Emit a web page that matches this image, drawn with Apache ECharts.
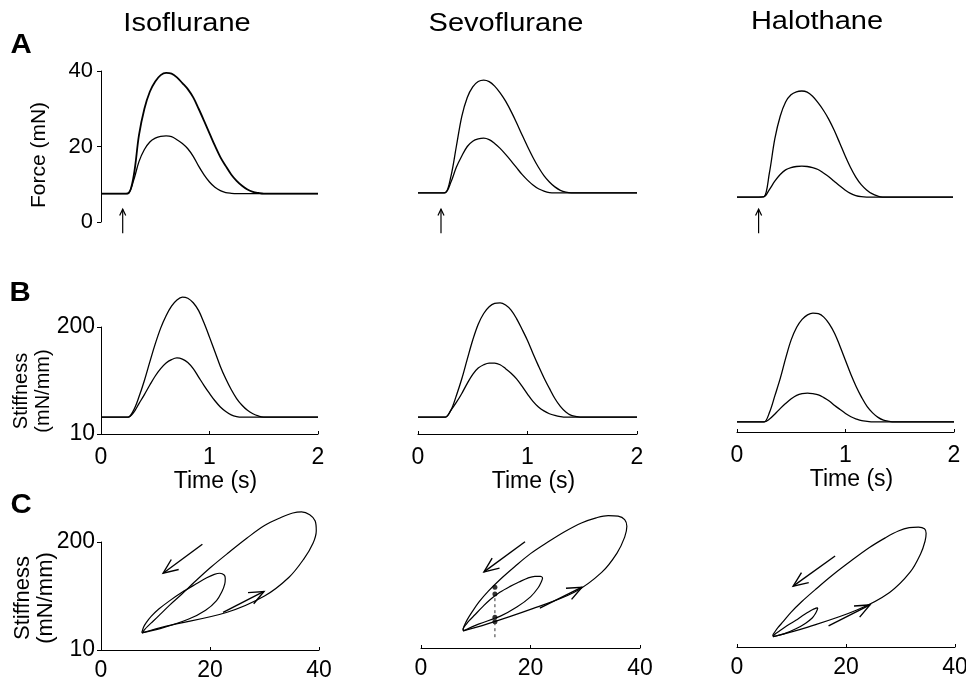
<!DOCTYPE html>
<html><head><meta charset="utf-8">
<script src="https://cdn.jsdelivr.net/npm/echarts@6/dist/echarts.min.js"></script>
<style>html,body{margin:0;padding:0;background:#fff}#c{width:966px;height:685px}</style>
</head><body><div id="c"></div>
<script>
// ---------- data ----------
const anesthetics = ['Isoflurane', 'Sevoflurane', 'Halothane'];
const T = [0,0.05,0.1,0.15,0.2,0.25,0.3,0.35,0.4,0.45,0.5,0.55,0.6,0.65,0.7,0.75,0.8,0.85,0.9,0.95,1,1.05,1.1,1.15,1.2,1.25,1.3,1.35,1.4,1.45,1.5,1.55,1.6,1.65,1.7,1.75,1.8,1.85,1.9,1.95,2];

const isoForceHigh = [7.5,7.5,7.5,7.5,7.5,7.6,12,23,30,34.5,37.2,38.9,39.5,39.3,38.3,36.8,35.2,33,30,26.8,23.5,20.2,17.2,14.8,12.6,10.9,9.6,8.6,8.0,7.7,7.5,7.5,7.5,7.5,7.5,7.5,7.5,7.5,7.5,7.5,7.5];
const isoForceLow  = [7.5,7.5,7.5,7.5,7.5,7.6,11,16,19.2,21.2,22.2,22.7,22.8,22.6,21.8,20.8,19.4,17.4,14.8,12.5,10.6,9.2,8.3,7.8,7.6,7.5,7.5,7.5,7.5,7.5,7.5,7.5,7.5,7.5,7.5,7.5,7.5,7.5,7.5,7.5,7.5];
const isoStiffHigh = [40,40,40,40,40,40,52,76,105,138,170,198,220,237,248,253,251,243,229,207,182,156,130,108,89,73,61,52,46,42,40,40,40,40,40,40,40,40,40,40,40];
const isoStiffLow  = [40,40,40,40,40,40,48,64,80,97,113,126,136,142,145,143,137,126,111,96,82,69,58,50,44,41,40,40,40,40,40,40,40,40,40,40,40,40,40,40,40];

const sevoForceHigh = [7.7,7.7,7.7,7.7,7.7,7.8,12,20,28,33,35.8,37.2,37.6,37.2,36,34.2,32,29.3,26.3,23.1,20,17.1,14.5,12.3,10.6,9.3,8.4,7.9,7.7,7.7,7.7,7.7,7.7,7.7,7.7,7.7,7.7,7.7,7.7,7.7,7.7];
const sevoForceLow  = [7.7,7.7,7.7,7.7,7.7,7.8,10.5,14.5,17.5,20,21.4,22,22.2,21.8,20.8,19.5,17.9,16.2,14.4,12.6,11.1,9.8,8.8,8.2,7.8,7.7,7.7,7.7,7.7,7.7,7.7,7.7,7.7,7.7,7.7,7.7,7.7,7.7,7.7,7.7,7.7];
const sevoStiffHigh = [40,40,40,40,40,40,52,78,108,143,177,205,224,236,242,243,239,230,215,196,176,153,131,110,91,73,59,49,43,41,40,40,40,40,40,40,40,40,40,40,40];
const sevoStiffLow  = [40,40,40,40,40,40,52,66,82,100,116,127,133,136,136,133,126,118,108,95,81,68,58,51,46,43,41,40,40,40,40,40,40,40,40,40,40,40,40,40,40];

const halForceHigh = [6.6,6.6,6.6,6.6,6.6,6.7,13,22,28,31.8,33.7,34.5,34.7,34.4,33.3,31.6,29.6,27.2,24.3,21,17.6,14.5,11.9,9.9,8.5,7.5,6.9,6.6,6.6,6.6,6.6,6.6,6.6,6.6,6.6,6.6,6.6,6.6,6.6,6.6,6.6];
const halForceLow  = [6.6,6.6,6.6,6.6,6.6,6.7,8.6,10.8,12.6,13.8,14.4,14.7,14.8,14.7,14.4,13.9,13.0,12.0,10.8,9.6,8.5,7.6,7.0,6.7,6.6,6.6,6.6,6.6,6.6,6.6,6.6,6.6,6.6,6.6,6.6,6.6,6.6,6.6,6.6,6.6,6.6];
const halStiffHigh = [28,28,28,28,28,28,45,75,106,142,174,196,210,218,221,220,214,202,185,162,137,112,90,71,55,44,36,31,29,28,28,28,28,28,28,28,28,28,28,28,28];
const halStiffLow  = [28,28,28,28,28,28,33,42,52,61,69,75,78,79,78,76,71,65,57,50,43,37,33,30,29,28,28,28,28,28,28,28,28,28,28,28,28,28,28,28,28];

// Sevoflurane loop: marked points and vertical cut at 13.5 mN
const sevoMarks = [[13.5,117],[13.5,105],[13.5,64],[13.5,56]];
const sevoCut = [[13.5,29],[13.5,121]];

// Ticks
const timeTicks = [0, 1, 2];
const forceTicks = [0, 20, 40];
const stiffTicks = [10, 200];
const loopForceTicks = [0, 20, 40];

// Annotation arrows [grid, x1, y1, x2, y2] (tail -> tip), data units
const stimArrows = [[0,0.20,-3,0.20,3.4],[1,0.21,-3,0.21,3.4],[2,0.20,-3,0.20,3.4]];
const loopArrows = [[6,18.6,196,11.4,145],[6,22.4,76,29.9,113],
                    [7,19.0,197,11.5,144],[7,21.7,80,29.4,117],
                    [8,18.0,170,10.3,117],[8,16.8,47,24.4,84]];

const forces = [[isoForceHigh, isoForceLow],[sevoForceHigh, sevoForceLow],[halForceHigh, halForceLow]];
const stiffs = [[isoStiffHigh, isoStiffLow],[sevoStiffHigh, sevoStiffLow],[halStiffHigh, halStiffLow]];

// ---------- layout ----------
const FONT = "'Liberation Sans', Arial, Helvetica, sans-serif";
const grids = [
  {left:101, top:71,  width:217, height:151},
  {left:418, top:71,  width:219, height:151},
  {left:737, top:71,  width:216, height:151},
  {left:101, top:327, width:217, height:107},
  {left:418, top:327, width:219, height:107},
  {left:737, top:325, width:217, height:107},
  {left:101, top:542, width:218, height:108},
  {left:421, top:540, width:219, height:108},
  {left:737, top:539, width:218, height:108}
].map(g => Object.assign({containLabel:false, outerBoundsMode:'none'}, g));

const axLine = {show:true, lineStyle:{color:'#000', width:1}};
const xAxes = [], yAxes = [];
for (let i = 0; i < 9; i++) {
  const row = Math.floor(i/3), col = i % 3;
  if (row === 0) {
    xAxes.push({gridIndex:i, type:'value', min:0, max:2, show:false});
    yAxes.push({gridIndex:i, type:'value', min:forceTicks[0], max:forceTicks[2], interval:20, show: col === 0,
      axisLine:axLine, axisTick:{show:true, length:4, lineStyle:{color:'#000'}}, splitLine:{show:false},
      axisLabel:{color:'#000', fontSize:22, fontFamily:FONT, margin:8}});
  } else if (row === 1) {
    xAxes.push({gridIndex:i, type:'value', min:timeTicks[0], max:timeTicks[2], interval:1,
      axisLine:axLine, axisTick:{show:true, inside:true, length:3, lineStyle:{color:'#000'}}, splitLine:{show:false},
      axisLabel:{color:'#000', fontSize:23, fontFamily:FONT, margin:12},
      name:'Time (s)', nameLocation:'middle', nameGap:33,
      nameTextStyle:{color:'#000', fontSize:23, fontFamily:FONT, padding:[0,0,0,12]}});
    yAxes.push({gridIndex:i, type:'value', min:stiffTicks[0], max:stiffTicks[1], interval:190, show: col === 0,
      axisLine:axLine, axisTick:{show:true, length:4, lineStyle:{color:'#000'}}, splitLine:{show:false},
      axisLabel:{color:'#000', fontSize:23, fontFamily:FONT, margin:6}});
  } else {
    xAxes.push({gridIndex:i, type:'value', min:loopForceTicks[0], max:loopForceTicks[2], interval:20,
      axisLine:axLine, axisTick:{show:true, inside:true, length:3, lineStyle:{color:'#000'}}, splitLine:{show:false},
      axisLabel:{color:'#000', fontSize:23, fontFamily:FONT, margin:9}});
    yAxes.push({gridIndex:i, type:'value', min:stiffTicks[0], max:stiffTicks[1], interval:190, show: col === 0,
      axisLine:axLine, axisTick:{show:true, length:4, lineStyle:{color:'#000'}}, splitLine:{show:false},
      axisLabel:{color:'#000', fontSize:23, fontFamily:FONT, margin:6}});
  }
}

const series = [];
function lineSeries(idx, data, w) {
  return {type:'line', xAxisIndex:idx, yAxisIndex:idx, data:data, showSymbol:false, symbol:'none',
    clip:false, smooth:0.35, lineStyle:{color:'#000', width:w}, silent:true, animation:false};
}
for (let c = 0; c < 3; c++) {
  for (let k = 0; k < 2; k++) {
    const f = forces[c][k], s = stiffs[c][k];
    series.push(lineSeries(c, T.map((t,i)=>[t, f[i]]), (c===0 && k===0) ? 1.8 : 1.3));
    series.push(lineSeries(3+c, T.map((t,i)=>[t, s[i]]), 1.3));
    series.push(lineSeries(6+c, f.map((v,i)=>[v, s[i]]), 1.2));
  }
}
series.push({type:'line', xAxisIndex:7, yAxisIndex:7, data:sevoCut, showSymbol:false, symbol:'none', clip:false,
  lineStyle:{color:'#333', width:1, type:[3,3]}, animation:false});
series.push({type:'scatter', xAxisIndex:7, yAxisIndex:7, data:sevoMarks, symbolSize:5, clip:false,
  itemStyle:{color:'#000'}, animation:false});

const chart = echarts.init(document.getElementById('c'), null, {renderer:'canvas'});
chart.setOption({animation:false, backgroundColor:'#fff', grid:grids, xAxis:xAxes, yAxis:yAxes, series:series});

// ---------- text + arrows ----------
const g = [];
const titlePos = [[187,24],[506,24],[817,22]];
anesthetics.forEach((t,i)=>g.push({type:'text', x:titlePos[i][0], y:titlePos[i][1], scaleX:1.16,
  style:{text:t, fontSize:25, fontFamily:FONT, fill:'#000', align:'center', verticalAlign:'middle'}}));
[['A',21,45],['B',20,293],['C',21,505]].forEach(p=>g.push({type:'text', x:p[1], y:p[2], scaleX:1.05,
  style:{text:p[0], fontSize:28, fontWeight:'bold', fontFamily:FONT, fill:'#000', align:'center', verticalAlign:'middle'}}));
g.push({type:'text', x:39, y:155, rotation:Math.PI/2,
  style:{text:'Force (mN)', fontSize:21, fontFamily:FONT, fill:'#000', align:'center', verticalAlign:'middle'}});
g.push({type:'text', x:32, y:391, rotation:Math.PI/2,
  style:{text:'Stiffness\n(mN/mm)', fontSize:20, lineHeight:22, fontFamily:FONT, fill:'#000', align:'center', verticalAlign:'middle'}});
g.push({type:'text', x:34, y:598, rotation:Math.PI/2,
  style:{text:'Stiffness\n(mN/mm)', fontSize:22, lineHeight:23, fontFamily:FONT, fill:'#000', align:'center', verticalAlign:'middle'}});

function arrow(a, headLen, ang, w) {
  const p1 = chart.convertToPixel({gridIndex:a[0]}, [a[1], a[2]]);
  const p2 = chart.convertToPixel({gridIndex:a[0]}, [a[3], a[4]]);
  const th = Math.atan2(p2[1]-p1[1], p2[0]-p1[0]);
  const b1 = [p2[0]-headLen*Math.cos(th-ang), p2[1]-headLen*Math.sin(th-ang)];
  const b2 = [p2[0]-headLen*Math.cos(th+ang), p2[1]-headLen*Math.sin(th+ang)];
  g.push({type:'polyline', shape:{points:[p1,p2]}, style:{stroke:'#000', lineWidth:w, fill:null}});
  g.push({type:'polyline', shape:{points:[b1,p2,b2]}, style:{stroke:'#000', lineWidth:w, fill:null}});
}
stimArrows.forEach(a=>arrow(a, 7, 0.45, 1.2));
loopArrows.forEach(a=>arrow(a, 16, 0.4, 1.4));

chart.setOption({graphic:g});
</script></body></html>
